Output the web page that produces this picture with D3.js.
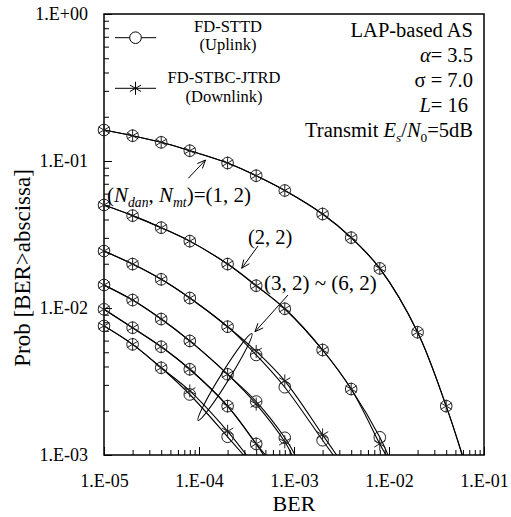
<!DOCTYPE html>
<html>
<head>
<meta charset="utf-8">
<script src="https://cdn.jsdelivr.net/npm/d3@7"></script>
<style>
  body { margin: 0; background: #fff; }
  text { font-family: "Liberation Serif", "Times New Roman", serif; fill: #000; }
</style>
</head>
<body>
<div id="chart"></div>
<script>
// BER grid where the markers sit
const berPoints = [1e-5, 2e-5, 4e-5, 8e-5, 2e-4, 4e-4, 8e-4, 2e-3, 4e-3, 8e-3, 2e-2, 4e-2];

// Prob[BER > abscissa], FD-STTD (uplink, circles) / FD-STBC-JTRD (downlink, stars)
const up12   = [0.1625, 0.1486, 0.134, 0.1175, 0.0969, 0.0794, 0.0630, 0.0436, 0.0301, 0.0186, 0.00684, 0.00215];
const down12 = [0.1625, 0.1486, 0.134, 0.1175, 0.0969, 0.0794, 0.0630, 0.0436, 0.0301, 0.0186, 0.00684, 0.00215];
const up22   = [0.0502, 0.0425, 0.0352, 0.0285, 0.0199, 0.01418, 0.00988, 0.00518, 0.00281, 0.00132];
const down22 = [0.0502, 0.0425, 0.0352, 0.0285, 0.0199, 0.01418, 0.00988, 0.00518, 0.00281, 0.00119];
const up32   = [0.0244, 0.0199, 0.01567, 0.01169, 0.00746, 0.00479, 0.00289, 0.00126];
const down32 = [0.0244, 0.0199, 0.01567, 0.01169, 0.00746, 0.00507, 0.00319, 0.00137];
const up42   = [0.01433, 0.01133, 0.00841, 0.00597, 0.00354, 0.00231, 0.00131];
const down42 = [0.01433, 0.01133, 0.00841, 0.00597, 0.00354, 0.00222, 0.00123];
const up52   = [0.00980, 0.00734, 0.00545, 0.00383, 0.00215, 0.00119];
const down52 = [0.00980, 0.00734, 0.00545, 0.00383, 0.00215, 0.00119];
const up62   = [0.00755, 0.00566, 0.00392, 0.00258, 0.00133];
const down62 = [0.00755, 0.00566, 0.00392, 0.00273, 0.00145];

// BER where each curve runs into the 1E-03 floor
const upEnd   = [0.0592, 0.00976, 0.00259, 0.001026, 0.000501, 0.000294];
const downEnd = [0.0588, 0.0093, 0.00281, 0.000953, 0.000478, 0.000316];

const xTicks = [1e-5, 1e-4, 1e-3, 1e-2, 1e-1];
const yTicks = [1e-3, 1e-2, 1e-1, 1];

const ups = [up12, up22, up32, up42, up52, up62];
const downs = [down12, down22, down32, down42, down52, down62];

const width = 511, height = 517;
const margin = { top: 14, right: 27, bottom: 62, left: 104 };
const floorP = 1e-3;

const svg = d3.select("#chart").append("svg")
    .attr("width", width)
    .attr("height", height)
    .attr("font-family", '"Liberation Serif", serif');

const x = d3.scaleLog().domain([1e-5, 1e-1]).range([margin.left, width - margin.right]);
const y = d3.scaleLog().domain([1e-3, 1]).range([height - margin.bottom, margin.top]);

const fmt = function (d) {
    const e = Math.round(Math.log10(d));
    return "1.E" + (e < 0 ? "-" : "+") + String(Math.abs(e)).padStart(2, "0");
};

const minors = function (lo, hi) {
    const out = [];
    for (let e = lo; e < hi; e++)
        for (let k = 2; k <= 9; k++) out.push(k * Math.pow(10, e));
    return out;
};

svg.append("defs").append("clipPath").attr("id", "plot")
    .append("rect")
    .attr("x", margin.left).attr("y", margin.top)
    .attr("width", width - margin.left - margin.right)
    .attr("height", height - margin.top - margin.bottom);

// axes, ticks point inward
const gx = svg.append("g").attr("transform", "translate(0," + y(floorP) + ")");
gx.append("g").call(d3.axisBottom(x).tickValues(minors(-5, -1)).tickSizeInner(-5).tickSizeOuter(0).tickFormat(""));
gx.append("g").call(d3.axisBottom(x).tickValues(xTicks).tickSizeInner(-8).tickSizeOuter(0).tickPadding(19).tickFormat(fmt));

const gy = svg.append("g").attr("transform", "translate(" + x(1e-5) + ",0)");
gy.append("g").call(d3.axisLeft(y).tickValues(minors(-3, 0)).tickSizeInner(-5).tickSizeOuter(0).tickFormat(""));
gy.append("g").call(d3.axisLeft(y).tickValues(yTicks).tickSizeInner(-8).tickSizeOuter(0).tickPadding(16).tickFormat(fmt));

svg.selectAll(".domain").remove();
svg.selectAll(".tick line").attr("stroke", "#000").attr("stroke-width", 1);
svg.selectAll(".tick text")
    .attr("font-family", '"Liberation Serif", serif')
    .attr("font-size", 18);

svg.append("rect")
    .attr("x", margin.left).attr("y", margin.top)
    .attr("width", width - margin.left - margin.right)
    .attr("height", height - margin.top - margin.bottom)
    .attr("fill", "none").attr("stroke", "#000").attr("stroke-width", 1.5);

svg.append("text").attr("x", x(1e-3)).attr("y", 511)
    .attr("text-anchor", "middle").attr("font-size", 22).text("BER");
svg.append("text")
    .attr("transform", "translate(30,268) rotate(-90)")
    .attr("text-anchor", "middle").attr("font-size", 23).text("Prob [BER>abscissa]");

// curves
const line = d3.line()
    .x(d => x(d[0]))
    .y(d => y(d[1]))
    .curve(d3.curveCatmullRom.alpha(0.5));

const curves = svg.append("g").attr("clip-path", "url(#plot)");
const marks = svg.append("g");

const starPath = function (r) {
    let p = "M0," + (-r) + "L0," + r;
    const a = Math.PI / 6;
    p += "M" + (-r * Math.cos(a)) + "," + (-r * Math.sin(a)) + "L" + (r * Math.cos(a)) + "," + (r * Math.sin(a));
    p += "M" + (-r * Math.cos(a)) + "," + (r * Math.sin(a)) + "L" + (r * Math.cos(a)) + "," + (-r * Math.sin(a));
    return p;
};

ups.forEach(function (vals, i) {
    const pts = vals.map((v, j) => [berPoints[j], v]);
    curves.append("path").datum(pts.concat([[upEnd[i], floorP]]))
        .attr("d", line).attr("fill", "none").attr("stroke", "#000").attr("stroke-width", 1.1);
    marks.selectAll(null).data(pts).enter().append("circle")
        .attr("cx", d => x(d[0])).attr("cy", d => y(d[1])).attr("r", 5.8)
        .attr("fill", "none").attr("stroke", "#222").attr("stroke-width", 1);
});

downs.forEach(function (vals, i) {
    const pts = vals.map((v, j) => [berPoints[j], v]);
    curves.append("path").datum(pts.concat([[downEnd[i], floorP]]))
        .attr("d", line).attr("fill", "none").attr("stroke", "#000").attr("stroke-width", 1.1);
    marks.selectAll(null).data(pts).enter().append("path")
        .attr("transform", d => "translate(" + x(d[0]) + "," + y(d[1]) + ")")
        .attr("d", starPath(6.5))
        .attr("fill", "none").attr("stroke", "#222").attr("stroke-width", 1);
});

// legend
const lg = svg.append("g");
lg.append("line").attr("x1", 115).attr("x2", 156).attr("y1", 37.7).attr("y2", 37.7).attr("stroke", "#000");
lg.append("circle").attr("cx", 135.5).attr("cy", 37.7).attr("r", 5.8).attr("fill", "#fff").attr("stroke", "#000");
lg.append("line").attr("x1", 115).attr("x2", 156).attr("y1", 88.3).attr("y2", 88.3).attr("stroke", "#000");
lg.append("path").attr("transform", "translate(135.5,88.3)").attr("d", starPath(6.5)).attr("fill", "none").attr("stroke", "#000");
[["FD-STTD", 228, 31.5], ["(Uplink)", 228, 50], ["FD-STBC-JTRD", 224, 83], ["(Downlink)", 224, 101.5]].forEach(function (t) {
    lg.append("text").attr("x", t[1]).attr("y", t[2]).attr("text-anchor", "middle").attr("font-size", 16.5).text(t[0]);
});

// rich text helper: parts = [text, italic, sub]
const rich = function (px, py, size, anchor, parts) {
    const t = svg.append("text").attr("x", px).attr("y", py).attr("font-size", size).attr("text-anchor", anchor);
    let shifted = false;
    parts.forEach(function (p) {
        const s = t.append("tspan").text(p[0]);
        if (p[1]) s.attr("font-style", "italic");
        if (p[2]) {
            s.attr("font-size", size * 0.65);
            if (!shifted) { s.attr("dy", size * 0.25); shifted = true; }
        } else if (shifted) {
            s.attr("dy", -size * 0.25); shifted = false;
        }
    });
    return t;
};

rich(473, 37, 20.5, "end", [["LAP-based AS"]]);
rich(473, 62, 20.5, "end", [["\u03b1", true], ["= 3.5"]]);
rich(473, 87, 20.5, "end", [["\u03c3 = 7.0"]]);
rich(468, 111.5, 20.5, "end", [["L", true], ["= 16"]]);
rich(473, 136.5, 20.5, "end", [["Transmit "], ["E", true], ["s", true, true], ["/"], ["N", true], ["0", false, true], ["=5dB"]]);

rich(107, 201.5, 21, "start", [["("], ["N", true], ["dan", true, true], [", "], ["N", true], ["mt", true, true], [")=(1, 2)"]]);
rich(248, 243.5, 20.5, "start", [["(2, 2)"]]);
rich(264, 290, 21, "start", [["(3, 2) ~ (6, 2)"]]);

// arrows
const arrow = function (x1, y1, x2, y2) {
    const g = svg.append("g").attr("stroke", "#000").attr("stroke-width", 1).attr("fill", "none");
    g.append("line").attr("x1", x1).attr("y1", y1).attr("x2", x2).attr("y2", y2);
    const ang = Math.atan2(y2 - y1, x2 - x1), L = 9, w = 0.4;
    g.append("path").attr("d",
        "M" + (x2 - L * Math.cos(ang - w)) + "," + (y2 - L * Math.sin(ang - w)) +
        "L" + x2 + "," + y2 +
        "L" + (x2 - L * Math.cos(ang + w)) + "," + (y2 - L * Math.sin(ang + w)));
};
arrow(188.3, 178.3, 205.5, 160);
arrow(258, 246, 241.7, 268.3);
arrow(288, 295, 255, 331.7);

// ellipse around (3,2)..(6,2)
svg.append("ellipse")
    .attr("transform", "translate(225,377) rotate(-58.2)")
    .attr("rx", 51).attr("ry", 4.5)
    .attr("fill", "none").attr("stroke", "#000").attr("stroke-width", 1);
</script>
</body>
</html>
